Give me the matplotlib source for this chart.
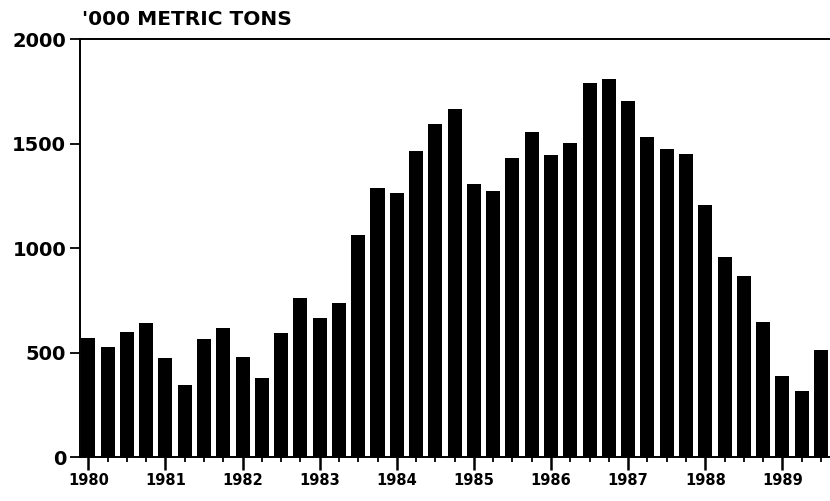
import numpy as np
import matplotlib.pyplot as plt
from matplotlib.ticker import FixedLocator

# quarterly volumes, 1980 Q1 .. 1989 Q3
years = [str(y) for y in range(1980, 1990)]
volumes = [
    569, 529, 601, 644,
    477, 346, 565, 620,
    481, 378, 593, 761,
    665, 737, 1064, 1290,
    1263, 1467, 1595, 1665,
    1306, 1276, 1434, 1558,
    1446, 1502, 1789, 1811,
    1706, 1534, 1475, 1450,
    1207, 960, 869, 649,
    390, 319, 513,
]
y_ticks = [0, 500, 1000, 1500, 2000]

plt.rcParams["font.family"] = ["DejaVu Sans"]
plt.rcParams["font.weight"] = "bold"

fig = plt.figure(figsize=(8.3, 5.01), dpi=100)
ax = fig.add_axes([0.0964, 0.0872, 0.9036, 0.8344])

x = np.arange(len(volumes))
ax.bar(x, volumes, width=0.73, color="black")

ax.set_xlim(-0.43, 38.47)
ax.set_ylim(0, 2000)

ax.set_yticks(y_ticks)
ax.set_yticklabels([str(v) for v in y_ticks], fontsize=14, fontweight="bold")
ax.tick_params(axis="y", direction="out", length=7, width=1.3, pad=3)

major_pos = [4 * i for i in range(len(years))]
ax.xaxis.set_major_locator(FixedLocator(major_pos))
ax.set_xticklabels(years, fontsize=10.5, fontweight="bold")
ax.xaxis.set_minor_locator(FixedLocator([i for i in x if i % 4 != 0]))
ax.tick_params(axis="x", which="major", direction="out", length=9, width=1.8, pad=2)
ax.tick_params(axis="x", which="minor", direction="out", length=3.5, width=1.3)

for side in ["left", "top", "bottom"]:
    ax.spines[side].set_linewidth(1.4)
ax.spines["right"].set_visible(False)

fig.text(0.099, 0.942, "'000 METRIC TONS", fontsize=14.5, fontweight="bold",
         ha="left", va="bottom")

fig.savefig("out.png", dpi=100)
